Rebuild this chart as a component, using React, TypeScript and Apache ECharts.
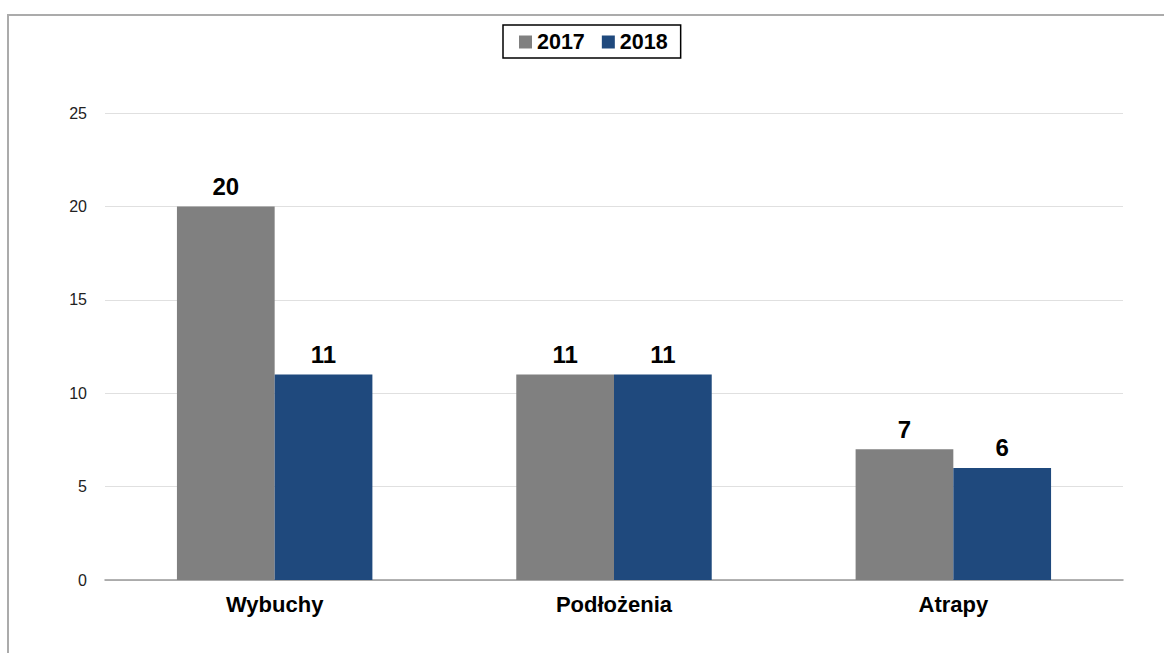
import React, { useEffect, useRef } from "react";
import * as echarts from "echarts";

const categories = ["Wybuchy", "Podłożenia", "Atrapy"];
const series2017 = [20, 11, 7];
const series2018 = [11, 11, 6];
const seriesNames = ["2017", "2018"];
const seriesColors = ["#808080", "#1F497D"];

export default function App() {
  const ref = useRef<HTMLDivElement>(null);
  useEffect(() => {
    if (!ref.current) return;
    const chart = echarts.init(ref.current, null, { renderer: "svg" });
    const font = "'Liberation Sans', Arial, sans-serif";
    const labelCfg = {
      show: true,
      position: "top",
      distance: 8,
      fontSize: 24,
      fontWeight: "bold",
      color: "#000",
      fontFamily: font,
    };
    chart.setOption({
      animation: false,
      backgroundColor: "#fff",
      textStyle: { fontFamily: font },
      graphic: [
        {
          type: "rect",
          shape: { x: 8, y: 15, width: 1180, height: 660 },
          style: { fill: "none", stroke: "#ababab", lineWidth: 2 },
          silent: true,
        },
      ],
      legend: {
        data: seriesNames,
        left: 503,
        top: 25,
        icon: "rect",
        itemWidth: 13,
        itemHeight: 13,
        itemGap: 17,
        padding: [6, 13, 5, 16],
        borderColor: "#000",
        borderWidth: 1.5,
        textStyle: {
          fontSize: 21.5,
          fontWeight: "bold",
          color: "#000",
          fontFamily: font,
        },
      },
      grid: { left: 105, right: 41, top: 113, bottom: 73 },
      xAxis: {
        type: "category",
        data: categories,
        axisTick: { show: false },
        axisLine: { lineStyle: { color: "#999", width: 1.5 } },
        axisLabel: {
          fontSize: 22,
          fontWeight: "bold",
          color: "#000",
          margin: 13,
          fontFamily: font,
        },
      },
      yAxis: {
        type: "value",
        min: 0,
        max: 25,
        interval: 5,
        axisLine: { show: false },
        axisTick: { show: false },
        splitLine: { lineStyle: { color: "#e0e0e0", width: 1.2 } },
        axisLabel: { fontSize: 16, color: "#222", margin: 18, fontFamily: font },
      },
      series: [
        {
          name: seriesNames[0],
          type: "bar",
          data: series2017,
          barGap: "0%",
          barCategoryGap: "42.4%",
          itemStyle: { color: seriesColors[0] },
          label: labelCfg,
        },
        {
          name: seriesNames[1],
          type: "bar",
          data: series2018,
          barGap: "0%",
          barCategoryGap: "42.4%",
          itemStyle: { color: seriesColors[1] },
          label: labelCfg,
        },
      ],
    });
    return () => chart.dispose();
  }, []);
  return (
    <div
      ref={ref}
      style={{ position: "fixed", left: 0, top: 0, width: 1164, height: 653 }}
    />
  );
}
